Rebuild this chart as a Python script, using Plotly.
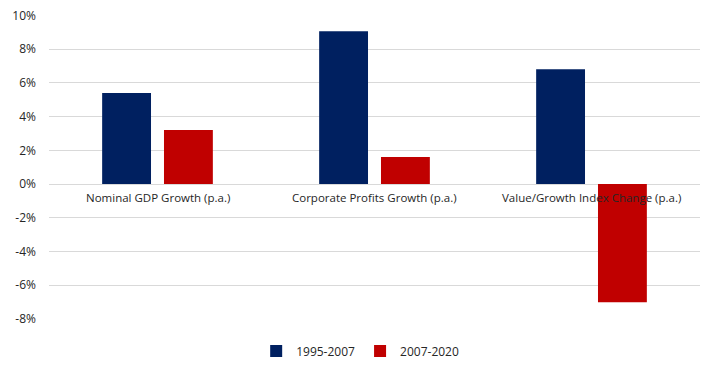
import plotly.graph_objects as go

categories = ["Nominal GDP Growth (p.a.)", "Corporate Profits Growth (p.a.)", "Value/Growth Index Change (p.a.)"]
series_1995_2007 = [5.4, 9.05, 6.8]
series_2007_2020 = [3.2, 1.6, -7.0]
tick_vals = [-8, -6, -4, -2, 0, 2, 4, 6, 8, 10]
tick_text = [f"{v}%" for v in tick_vals]

font_family = "Open Sans, Liberation Sans, Arial, sans-serif"

fig = go.Figure()
fig.add_trace(go.Bar(x=categories, y=series_1995_2007, name="1995-2007",
                     marker=dict(color="#002060", line=dict(width=0))))
fig.add_trace(go.Bar(x=categories, y=series_2007_2020, name="2007-2020",
                     marker=dict(color="#C00000", line=dict(width=0))))

for c in categories:
    fig.add_annotation(x=c, y=0, xref="x", yref="y", text=c, showarrow=False,
                       yanchor="top", yshift=-4,
                       font=dict(family=font_family, size=11.5, color="#262626"))

fig.update_layout(
    width=720, height=369,
    margin=dict(l=49, r=20, t=15, b=50, autoexpand=False),
    paper_bgcolor="white", plot_bgcolor="white",
    barmode="group", bargap=0.43, bargroupgap=0.21,
    font=dict(family=font_family, size=12, color="#262626"),
    showlegend=True,
    legend=dict(orientation="h", x=0.478, xanchor="center", y=-0.105, yanchor="middle",
                font=dict(family=font_family, size=12, color="#262626"),
                itemwidth=30, traceorder="normal"),
    xaxis=dict(showticklabels=False, showgrid=False, zeroline=False, showline=False, ticks="",
               automargin=False),
    yaxis=dict(range=[-8, 10.02], tickvals=tick_vals, ticktext=tick_text,
               showgrid=True, gridcolor="#D9D9D9", gridwidth=1,
               zeroline=True, zerolinecolor="#D9D9D9", zerolinewidth=1,
               showline=False, ticks="", ticklabelstandoff=12, automargin=False,
               ticklabeloverflow="allow",
               tickfont=dict(family=font_family, size=12, color="#262626")),
)

fig.write_html("out.html",
               config={"displayModeBar": False},
               post_script="document.body.style.margin='0';document.body.style.overflow='hidden';")
